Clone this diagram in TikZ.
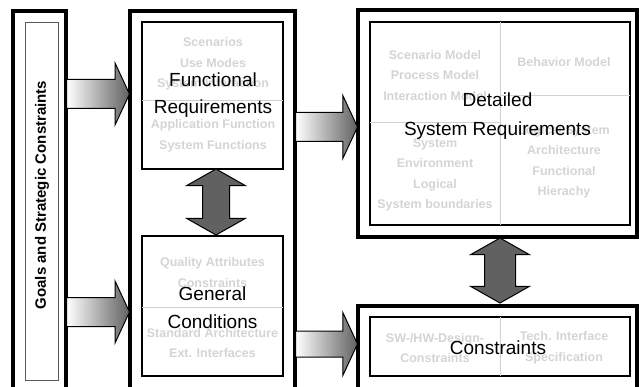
\documentclass[tikz,border=0pt]{standalone}
\usepackage{fontspec}
\setmainfont{Liberation Sans}
\usetikzlibrary{shapes.arrows}
\tikzset{
  outerbox/.style={draw, line width=3.4pt, inner sep=0pt, outer sep=0pt},
  innerbox/.style={draw, line width=2pt, inner sep=0pt, outer sep=0pt},
  divider/.style={draw=black!18, line width=0.6pt},
  ghost/.style={text=black!17, font=\bfseries\fontsize{12.5}{20.5}\selectfont, align=center},
  title/.style={font=\fontsize{19}{27}\selectfont, align=center},
  flow/.style={single arrow, draw=black, line width=1pt, left color=white, right color=black!62,
    single arrow head extend=16.5pt, single arrow tip angle=130, single arrow head indent=0pt,
    inner sep=0pt, inner ysep=14pt},
  swap/.style={double arrow, draw=black, line width=1pt, fill=black!62, rotate=90,
    double arrow head extend=16pt, double arrow tip angle=121, double arrow head indent=0pt,
    inner sep=0pt, inner ysep=13pt}
}
\begin{document}
\begin{tikzpicture}[x=1pt,y=-1pt]
    \useasboundingbox (0,0) rectangle (639,387);
    % left column
    \node[outerbox, minimum width=53pt, minimum height=381pt] (goals) at (39.5,201.5) {};
    \node[draw=black!65, line width=0.8pt, minimum width=33pt, minimum height=358pt] (goalsin) at (41.5,201) {};
    \node[rotate=90, font=\bfseries\fontsize{15}{18}\selectfont] (goalstext) at (42,195) {Goals and Strategic Constraints};
    % middle column
    \node[outerbox, minimum width=165pt, minimum height=381pt] (req) at (212.5,201.5) {};
    \node[innerbox, minimum width=141pt, minimum height=147pt] (fr) at (212.5,95.5) {};
    \node[innerbox, minimum width=141pt, minimum height=140pt] (gc) at (212.5,306) {};
    \draw[divider] (142,100) -- (283,100);
    \draw[divider] (142,307) -- (283,307);
    \node[ghost] (frtop) at (213,64) {Scenarios\\Use Modes\\System Interaction};
    \node[ghost] (frbot) at (213,136) {Application Function\\System Functions};
    \node[ghost] (gctop) at (212.5,272.5) {Quality Attributes\\Constraints};
    \node[ghost] (gcbot) at (212.5,343) {Standard Architecture\\Ext. Interfaces};
    \node[title] (frlabel) at (213,95) {Functional\\Requirements};
    \node[title, font=\fontsize{19}{28}\selectfont] (gclabel) at (212.5,308) {General\\Conditions};
    % right column
    \node[outerbox, minimum width=279pt, minimum height=227pt] (detail) at (497.5,123.5) {};
    \node[innerbox, minimum width=260pt, minimum height=203pt] (dsr) at (500,123.5) {};
    \node[outerbox, minimum width=279pt, minimum height=86pt] (cons) at (497.5,349) {};
    \node[innerbox, minimum width=260pt, minimum height=59pt] (con) at (500,346.5) {};
    \draw[divider] (dsr.north) -- (dsr.south);
    \draw[divider] (370,122) -- (dsr.center |- 0,122);
    \draw[divider] (dsr.center |- 0,95) -- (630,95);
    \draw[divider] (con.north) -- (con.south);
    \node[ghost] (dsrA) at (435,75.5) {Scenario Model\\Process Model\\Interaction Model};
    \node[ghost] (dsrB) at (564,62) {Behavior Model};
    \node[ghost] (dsrC) at (435,175) {System\\Environment\\Logical\\System boundaries};
    \node[ghost] (dsrD) at (564,162) {Logical System\\Architecture\\Functional\\Hierachy};
    \node[ghost] (conA) at (435,348) {SW-/HW-Design-\\Constraints};
    \node[ghost] (conB) at (564,348) {Tech. Interface\\Specification};
    \node[title, font=\fontsize{19}{29}\selectfont] (dsrlabel) at (497.5,116.5) {Detailed\\System Requirements};
    \node[title] (conlabel) at (498,348) {Constraints};
    % block arrows
    \node[flow, minimum height=63pt, anchor=tail] (toFR) at (66,94) {};
    \node[flow, minimum height=63pt, anchor=tail] (toGC) at (66,312) {};
    \node[flow, minimum height=62pt, anchor=tail, single arrow head extend=17pt] (toDSR) at (295,127) {};
    \node[flow, minimum height=62pt, anchor=tail, inner ysep=12.5pt, single arrow head extend=18.5pt] (toCon) at (295,344) {};
    \node[swap, minimum height=66pt] (frgc) at (216,202) {};
    \node[swap, minimum height=65pt, inner ysep=15pt, double arrow head extend=14pt] (dsrcon) at (500,270.5) {};
\end{tikzpicture}
\end{document}
